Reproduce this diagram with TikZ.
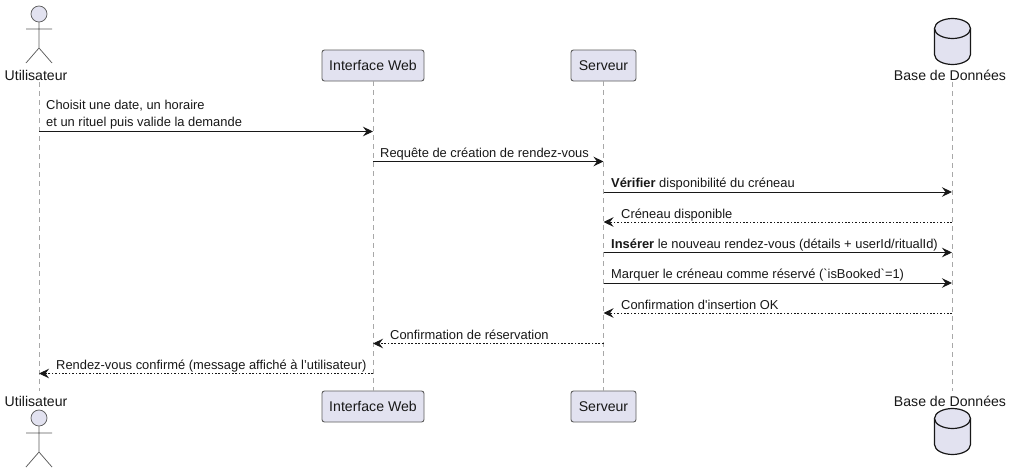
\documentclass[tikz,border=0pt]{standalone}
\usepackage{fontspec}
\setmainfont{Liberation Sans}
\newfontfamily\plainf{Liberation Sans}
\usetikzlibrary{arrows.meta}
\definecolor{pfill}{HTML}{E2E2F0}
\definecolor{pline}{HTML}{181818}
\definecolor{lifec}{HTML}{A8A8A8}
\tikzset{
  x=1pt,y=-1pt,
  txt/.style={font=\plainf\fontsize{12.9}{15}\selectfont,text=pline,inner sep=0pt,anchor=base west},
  name lbl/.style={font=\plainf\fontsize{14.1}{16}\selectfont,text=pline,inner sep=0pt,anchor=base},
  pbox/.style={draw=pline!70!white,fill=pfill,rounded corners=2.5pt,line width=.9pt,minimum height=31pt,inner sep=0pt,font=\plainf\fontsize{14.1}{16}\selectfont,text=pline,anchor=center},
  life/.style={draw=lifec,line width=.9pt,dash pattern=on 4.5pt off 4.5pt},
  actor/.style={draw=pline!70!white,line width=.75pt},
  msg/.style={draw=pline,line width=.9pt,-{Stealth[length=10pt,width=9.5pt,inset=3.5pt]}},
  ret/.style={draw=pline,line width=.9pt,dash pattern=on 1.7pt off 1.7pt,-{Stealth[length=10pt,width=9.5pt,inset=3.5pt]}},
  db/.style={draw=pline,line width=1.2pt,fill=pfill},
}
\newcommand{\stick}[2]{%
  \draw[actor,fill=pfill] (#1,#2) circle[radius=8];
  \draw[actor] (#1,#2+8) -- (#1,#2+34) (#1-13,#2+15) -- (#1+13,#2+15) (#1-13,#2+49) -- (#1,#2+34) -- (#1+13,#2+49);
}
\newcommand{\cyl}[2]{%
  \draw[db] (#1-18,#2+10) -- (#1-18,#2+36) .. controls (#1-18,#2+42) and (#1-9,#2+46) .. (#1,#2+46) .. controls (#1+9,#2+46) and (#1+18,#2+42) .. (#1+18,#2+36) -- (#1+18,#2+10) .. controls (#1+18,#2+4) and (#1+9,#2) .. (#1,#2) .. controls (#1-9,#2) and (#1-18,#2+4) .. (#1-18,#2+10) -- cycle;
  \draw[db,fill=none] (#1-18,#2+10) .. controls (#1-18,#2+16) and (#1-9,#2+20) .. (#1,#2+20) .. controls (#1+9,#2+20) and (#1+18,#2+16) .. (#1+18,#2+10);
}
\begin{document}
\begin{tikzpicture}
\useasboundingbox[fill=white] (0,0) rectangle (1013,474);
% lifelines
\coordinate (ut) at (39,82); \coordinate (ub) at (39,391);
\coordinate (dt) at (952,82); \coordinate (db) at (952,391);
\draw[life] (ut) -- (ub);
\draw[life] (dt) -- (db);
% participants
\node[pbox,minimum width=102pt] (webT) at (373,65.5) {Interface Web};
\node[pbox,minimum width=65pt] (srvT) at (603.5,65.5) {Serveur};
\node[pbox,minimum width=102pt] (webB) at (373,406.5) {Interface Web};
\node[pbox,minimum width=65pt] (srvB) at (603.5,406.5) {Serveur};
\draw[life] (webT.south) -- (webB.north);
\draw[life] (srvT.south) -- (srvB.north);
% actors and database
\stick{39}{14}
\stick{39}{418}
\cyl{952.5}{18.5}
\cyl{952.5}{408.5}
\node[name lbl] (uLblT) at (36,80) {Utilisateur};
\node[name lbl] (uLblB) at (36,406) {Utilisateur};
\node[name lbl] (dLblT) at (950,80) {Base de Données};
\node[name lbl] (dLblB) at (950,406) {Base de Données};
% message anchors
\foreach \n/\y in {1/131.5,2/161.5,3/192,4/222,5/252.5,6/283,7/313,8/343.5,9/373.5}{
  \coordinate (u\n) at (39,\y);
  \coordinate (w\n) at (373,\y);
  \coordinate (s\n) at (603.5,\y);
  \coordinate (d\n) at (952,\y);
}
\draw[msg] (u1) -- (w1);
\draw[msg] (w2) -- (s2);
\draw[msg] (s3) -- (d3);
\draw[ret] (d4) -- (s4);
\draw[msg] (s5) -- (d5);
\draw[msg] (s6) -- (d6);
\draw[ret] (d7) -- (s7);
\draw[ret] (s8) -- (w8);
\draw[ret] (w9) -- (u9);
% labels
\node[txt] (m1a) at (46,109.5) {Choisit une date, un horaire};
\node[txt] (m1b) at (46,126) {et un rituel puis valide la demande};
\node[txt] (m2) at (380,157) {Requête de création de rendez-vous};
\node[txt] (m3) at (611,187) {\textbf{Vérifier} disponibilité du créneau};
\node[txt] (m4) at (621,218) {Créneau disponible};
\node[txt] (m5) at (611,248) {\textbf{Insérer} le nouveau rendez-vous (détails + userId/ritualId)};
\node[txt] (m6) at (611,278) {Marquer le créneau comme réservé (`isBooked`=1)};
\node[txt] (m7) at (621,309) {Confirmation d'insertion OK};
\node[txt] (m8) at (390,339) {Confirmation de réservation};
\node[txt] (m9) at (56,369) {Rendez-vous confirmé (message affiché à l’utilisateur)};
\end{tikzpicture}
\end{document}
